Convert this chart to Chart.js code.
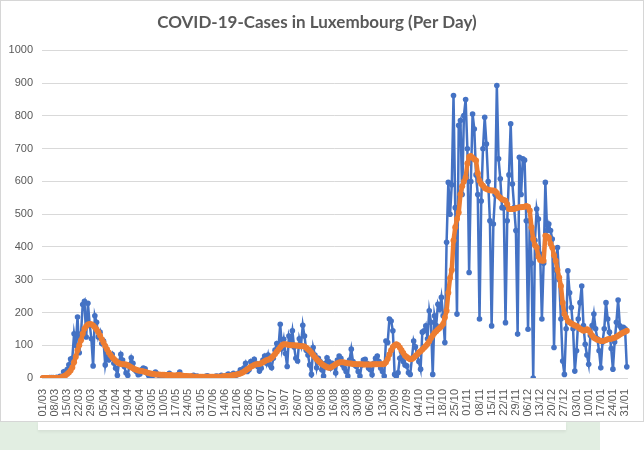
<!DOCTYPE html>
<html>
<head>
<meta charset="utf-8">
<script src="https://cdn.jsdelivr.net/npm/chart.js@4"></script>
<style>
  html,body{margin:0;padding:0;background:#ffffff;width:644px;height:450px;overflow:hidden;}
  #green{position:absolute;left:0;top:422px;width:600px;height:28px;background:#e2eee2;}
  #strip{position:absolute;left:38px;top:421px;width:528px;height:9px;background:#ffffff;box-shadow:0 2px 3px rgba(0,0,0,0.06);}
  #frame{position:absolute;left:0;top:0;width:642px;height:420px;border:1px solid #d6d6d6;background:#ffffff;}
  canvas{display:block;}
</style>
</head>
<body>
<div id="green"></div>
<div id="strip"></div>
<div id="frame"><canvas id="c" width="642" height="420"></canvas></div>
<script>
// Category axis: daily dates starting 01/03 (2020) — 338 days
const startDate = new Date(2020, 2, 1);
const dayCount = 338;
const labels = [];
for (let i = 0; i < dayCount; i++) {
  const d = new Date(startDate.getFullYear(), startDate.getMonth(), startDate.getDate() + i);
  labels.push(String(d.getDate()).padStart(2,'0') + '/' + String(d.getMonth()+1).padStart(2,'0'));
}
const tickEvery = 7;

// Daily new cases (blue)
const dailyCases = [
  0,0,0,0,1,1,1,
  0,2,0,5,2,19,9,
  26,40,58,60,135,100,186,
  77,135,224,234,125,228,165,
  120,37,190,170,125,140,105,
  113,40,72,55,60,72,45,
  30,8,50,72,55,35,15,
  8,40,62,45,25,20,10,
  12,25,30,28,15,8,5,
  5,10,18,12,8,10,6,
  3,8,10,14,6,5,4,
  3,10,18,6,5,2,4,
  2,3,5,8,4,6,3,
  2,4,3,5,7,2,3,
  1,4,6,5,3,8,2,
  4,8,12,6,10,14,7,
  10,15,25,18,30,45,20,
  25,50,40,57,45,35,21,
  30,55,67,45,70,40,31,
  60,85,105,95,164,90,118,
  75,35,128,110,144,95,60,
  52,120,100,161,128,85,70,
  40,11,93,70,31,60,50,
  25,6,45,62,50,30,45,
  37,15,55,67,60,40,30,
  20,6,55,88,50,40,35,
  20,6,40,55,57,45,30,
  25,10,45,60,67,50,30,
  20,6,113,108,180,174,144,
  11,6,16,60,80,50,40,
  37,16,11,60,113,95,70,
  50,27,140,144,159,120,205,
  170,11,190,160,225,210,246,
  190,108,414,597,500,590,862,
  520,195,771,786,560,801,850,
  700,322,600,806,760,620,560,
  180,540,700,796,714,600,480,
  159,470,560,893,669,608,520,
  520,169,480,620,776,592,520,
  450,134,674,560,669,665,480,
  149,480,350,0,420,516,485,
  378,180,350,597,450,470,450,
  424,93,330,398,300,180,52,
  11,150,327,260,215,150,21,
  83,180,230,281,160,103,70,
  42,130,160,195,150,120,83,
  31,110,150,230,180,140,90,
  27,110,170,238,159,150,155,
  150,34
];

// Smoothed average (orange)
const averageCases = [
  0,0,0,0,0,0,0,0,0,0,
  0,3,5,8,12,17,23,32,48,65,
  85,100,115,135,150,158,163,165,164,160,
  155,148,140,130,118,108,98,88,78,70,
  63,58,53,48,45,43,42,42,41,39,
  36,33,30,27,25,23,22,21,20,19,
  17,15,14,13,12,11,11,11,10,10,
  10,9,9,9,9,8,8,8,9,9,
  8,7,6,6,5,5,5,4,4,4,
  4,4,4,4,4,4,4,4,4,4,
  4,4,4,4,5,5,6,6,7,8,
  9,10,11,12,14,16,19,23,27,30,
  34,37,40,42,42,43,45,48,51,54,
  56,58,62,67,73,80,87,94,100,103,
  103,102,101,100,100,100,99,99,98,97,
  97,96,92,88,83,77,70,63,57,52,
  47,43,39,36,33,31,32,35,38,42,
  45,47,48,48,47,46,45,44,44,43,
  43,42,42,42,42,41,41,41,41,41,
  41,42,42,42,42,42,42,43,48,58,
  72,85,95,100,103,100,93,85,76,68,
  64,60,57,58,62,67,72,78,82,87,
  92,98,104,112,122,130,137,143,148,153,
  158,165,185,205,260,305,330,420,460,485,
  505,560,585,600,612,655,675,678,672,668,
  664,625,602,592,587,580,577,575,573,572,
  572,570,565,555,550,546,543,541,530,516,
  516,516,516,518,520,521,521,522,523,525,
  523,511,460,424,405,398,370,360,358,358,
  434,432,429,410,398,375,358,330,307,281,
  230,195,185,174,170,166,163,160,159,155,
  150,147,144,146,149,146,138,130,123,120,
  117,115,113,113,114,116,118,119,120,121,
  123,126,129,133,136,139,141,144
];

const yMin = 0, yMax = 1000, yStep = 100;
const titleText = 'COVID-19-Cases in Luxembourg (Per Day)';

new Chart(document.getElementById('c'), {
  type: 'line',
  data: {
    labels: labels,
    datasets: [
      {
        label: 'Cases',
        data: dailyCases,
        borderColor: '#4472C4',
        backgroundColor: '#4472C4',
        borderWidth: 2.5,
        pointRadius: 2.8,
        pointBorderWidth: 0,
        pointHoverRadius: 0,
        tension: 0,
        order: 2
      },
      {
        label: 'Average',
        data: averageCases,
        borderColor: '#ED7D31',
        backgroundColor: '#ED7D31',
        borderWidth: 4.5,
        pointRadius: 3,
        pointBorderWidth: 0,
        pointHoverRadius: 0,
        tension: 0,
        order: 1
      }
    ]
  },
  options: {
    responsive: false,
    animation: false,
    layout: { padding: { left: 0, right: 10, top: 0, bottom: 0 } },
    plugins: {
      legend: { display: false },
      tooltip: { enabled: false },
      title: {
        display: true,
        text: titleText,
        color: '#595959',
        font: { family: 'Lato', size: 17, weight: 'bold' },
        padding: { top: 11, bottom: 18 }
      }
    },
    scales: {
      x: {
        offset: true,
        grid: { display: false },
        border: { display: true, color: '#d9d9d9', width: 1 },
        ticks: {
          autoSkip: false,
          minRotation: 90,
          maxRotation: 90,
          padding: 3,
          color: '#595959',
          font: { family: 'Liberation Sans', size: 11 },
          callback: function (v, i) { return i % tickEvery === 0 ? labels[i] : ''; }
        },
        afterFit: function (s) { s.height = 43; }
      },
      y: {
        min: yMin,
        max: yMax,
        grid: { color: '#d9d9d9', drawTicks: false },
        border: { display: false },
        ticks: {
          stepSize: yStep,
          padding: 9,
          color: '#595959',
          font: { family: 'Liberation Sans', size: 11 },
          callback: function (v) { return String(v); }
        },
        afterFit: function (s) { s.width = 41; }
      }
    }
  }
});
</script>
</body>
</html>
